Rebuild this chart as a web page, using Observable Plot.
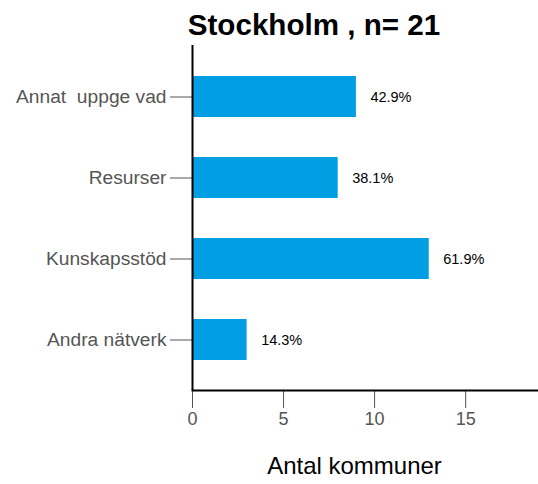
<!DOCTYPE html>
<html><head><meta charset="utf-8">
<script src="https://cdn.jsdelivr.net/npm/d3@7"></script>
<script src="https://cdn.jsdelivr.net/npm/@observablehq/plot@0.6"></script>
<style>
body{margin:0;background:#fff;font-family:"Liberation Sans",Arial,sans-serif;}
#title{box-sizing:border-box;height:45px;padding-top:10px;padding-left:90px;width:538px;text-align:center;font-weight:bold;font-size:29.6px;line-height:29px;color:#000;white-space:pre;}
svg{display:block;}
</style></head><body>
<div id="title">Stockholm , n= 21</div>
<div id="chart"></div>
<script>
const categories = ["Annat  uppge vad", "Resurser", "Kunskapsstöd", "Andra nätverk"];
const counts = [9, 8, 13, 3];
const percentLabels = ["42.9%", "38.1%", "61.9%", "14.3%"];
const xTicks = [0, 5, 10, 15];
const xLabel = "Antal kommuner";

const data = categories.map((c, i) => ({category: c, count: counts[i], label: percentLabels[i]}));

const plot = Plot.plot({
  width: 538,
  height: 439,
  marginTop: 0,
  marginBottom: 94,
  marginLeft: 192,
  marginRight: 0,
  style: {fontFamily: "Liberation Sans, Arial, sans-serif", background: "#fff", overflow: "visible"},
  x: {domain: [0, 19]},
  y: {domain: categories, paddingInner: 0.5, paddingOuter: 0.354},
  marks: [
    Plot.barX(data, {x: "count", y: "category", fill: "#009FE3"}),
    Plot.text(data, {x: "count", y: "category", text: "label", dx: 14, textAnchor: "start", fill: "#000", fontSize: 14.5}),
    Plot.axisX({ticks: xTicks, tickSize: 18, tickPadding: 4, stroke: "#555", fill: "#555", fontSize: 18, label: null}),
    Plot.axisY({tickSize: 22, tickPadding: 4, stroke: "#555", fill: "#555", fontSize: 19.2, label: null}),
    Plot.text([xLabel], {frameAnchor: "bottom", dy: 83, dx: -11, fill: "#000", fontSize: 24}),
    Plot.ruleX([0], {stroke: "#000", strokeWidth: 2}),
    Plot.frame({anchor: "bottom", stroke: "#000", strokeWidth: 2})
  ]
});
plot.querySelectorAll("text").forEach(t => t.setAttribute("xml:space", "preserve"));
plot.style.whiteSpace = "pre";
document.getElementById("chart").appendChild(plot);
</script>
</body></html>
